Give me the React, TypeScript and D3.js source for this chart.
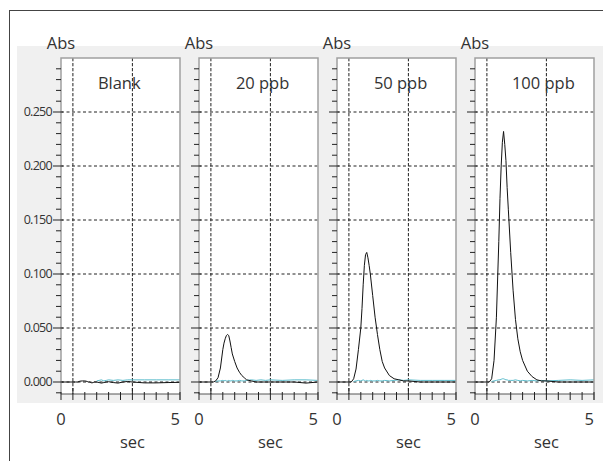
import React from 'react';
import * as d3 from 'd3';

// sample times (sec), shared by every trace
const TIME = [0, 0.25, 0.5, 0.6, 0.7, 0.8, 0.9, 1.0, 1.05, 1.1, 1.15, 1.2, 1.25, 1.3, 1.35, 1.4, 1.5, 1.6, 1.7, 1.8, 1.9, 2.0, 2.2, 2.4, 2.6, 2.8, 3.0, 3.5, 4.0, 4.5, 5.0];

const PANELS = ['Blank', '20 ppb', '50 ppb', '100 ppb'];

// absorbance signal (black)
const SIG_BLANK = [0, 0, 0, 0, 0, 0.0008, 0.001, 0.001, 0.0008, 0.0005, 0, 0, -0.0005, -0.0008, -0.0005, 0, 0, -0.0005, -0.001, -0.0005, 0, 0.0003, -0.0005, -0.001, 0, 0.0005, 0, -0.0008, -0.0008, -0.0005, -0.0003];
const SIG_20 = [0, 0, 0, 0, 0.001, 0.004, 0.013, 0.03, 0.036, 0.04, 0.043, 0.044, 0.043, 0.038, 0.032, 0.026, 0.019, 0.013, 0.009, 0.006, 0.004, 0.002, 0.001, 0, 0, 0, 0, 0, 0, -0.001, 0];
const SIG_50 = [0, 0, 0, 0, 0.003, 0.012, 0.03, 0.05, 0.068, 0.09, 0.108, 0.118, 0.12, 0.115, 0.108, 0.1, 0.08, 0.06, 0.044, 0.03, 0.019, 0.013, 0.006, 0.003, 0.002, 0.001, 0.001, 0, 0, 0, 0];
const SIG_100 = [0, 0, 0, 0, 0.003, 0.02, 0.06, 0.13, 0.17, 0.2, 0.222, 0.232, 0.22, 0.205, 0.18, 0.16, 0.12, 0.085, 0.058, 0.04, 0.028, 0.02, 0.01, 0.005, 0.002, 0.001, 0.001, 0, 0, 0, 0];

// background trace (cyan), null where not drawn
const N = null;
const BG_BLANK = [N, N, N, N, N, N, N, N, N, N, N, N, N, N, N, N, 0.001, 0.0015, 0.002, 0.001, 0.0015, 0.002, 0.0015, 0.002, 0.0015, 0.002, 0.002, 0.002, 0.002, 0.002, 0.002];
const BG_20 = [N, N, N, N, 0.0005, 0.001, 0.001, 0.0015, 0.001, 0.0015, 0.001, 0.001, 0.0015, 0.001, 0.001, 0.0015, 0.001, 0.001, 0.0015, 0.001, 0.001, 0.0015, 0.002, 0.0015, 0.002, 0.0015, 0.002, 0.0015, 0.002, 0.002, 0.0015];
const BG_50 = [N, N, N, N, 0.0005, 0.001, 0.0015, 0.001, 0.0015, 0.002, 0.0015, 0.001, 0.0015, 0.001, 0.001, 0.0015, 0.001, 0.001, 0.0015, 0.001, 0.001, 0.0015, 0.001, 0.0015, 0.002, 0.0015, 0.002, 0.0015, 0.0015, 0.0015, 0.0015];
const BG_100 = [N, N, N, N, 0.0005, 0.001, 0.0015, 0.002, 0.002, 0.0025, 0.003, 0.003, 0.0025, 0.002, 0.002, 0.0015, 0.0015, 0.0015, 0.002, 0.0015, 0.001, 0.0015, 0.001, 0.0015, 0.001, 0.0015, 0.001, 0.0015, 0.002, 0.0015, 0.002];

const SIGNALS = [SIG_BLANK, SIG_20, SIG_50, SIG_100];
const BACKGROUNDS = [BG_BLANK, BG_20, BG_50, BG_100];

const Y_LABELS = [0, 0.05, 0.1, 0.15, 0.2, 0.25];
const X_GRID = [0.5, 3.0];

const font = "'Open Sans', 'Noto Sans', sans-serif";
const textColor = '#333';

export default function App() {
  const W = 611, H = 469;
  const panelW = 119;
  const top = 58, bottom = 394;

  const panelX = d3.scalePoint<string>().domain(PANELS).range([61, 475]);
  const y = d3.scaleLinear().domain([-0.0111, 0.3]).range([bottom, top]);
  const yMinor = d3.range(-1, 30).map((i) => i / 100);
  const xTicks = d3.range(0, 11).map((i) => i / 2);

  return (
    <div style={{ margin: -8 }}>
      <svg width={W} height={H} style={{ display: 'block', fontFamily: font }}>
        <rect x={0} y={0} width={W} height={H} fill="#fff" />
        <rect x={9.5} y={10.5} width={W} height={H} fill="none" stroke="#444" strokeWidth={1} />
        <rect x={17} y={46} width={588} height={357} fill="#f0f0f0" />

        {PANELS.map((name, pi) => {
          const x0 = panelX(name) as number;
          const x = d3.scaleLinear().domain([0, 5]).range([x0, x0 + panelW]);
          const line = d3
            .line<number | null>()
            .defined((d) => d !== null)
            .x((_, i) => x(TIME[i]))
            .y((d) => y(d as number));
          return (
            <g key={name}>
              <rect x={x0} y={top} width={panelW} height={bottom - top} fill="#fff" />

              {/* gridlines */}
              {Y_LABELS.map((v) => (
                <line key={'hg' + v} x1={x0} x2={x0 + panelW} y1={y(v)} y2={y(v)} stroke="#222" strokeWidth={1} strokeDasharray="3,2.5" />
              ))}
              {X_GRID.map((v) => (
                <line key={'vg' + v} x1={x(v)} x2={x(v)} y1={top} y2={bottom} stroke="#222" strokeWidth={1} strokeDasharray="3.3,1.7" />
              ))}

              {/* traces */}
              <path d={line(BACKGROUNDS[pi]) || ''} fill="none" stroke="#5bbccc" strokeWidth={1} />
              <path d={line(SIGNALS[pi]) || ''} fill="none" stroke="#111" strokeWidth={1} />

              {/* frame */}
              <path
                d={`M${x0},${bottom}V${top}H${x0 + panelW}V${bottom + 6}`}
                fill="none"
                stroke="#a0a0a0"
                strokeWidth={1.5}
              />

              {/* y ticks */}
              {yMinor.map((v) => {
                const major = Y_LABELS.some((l) => Math.abs(l - v) < 1e-9);
                return (
                  <line key={'yt' + v} x1={major ? x0 - 8 : x0 - 5} x2={major ? x0 + 2 : x0} y1={y(v)} y2={y(v)} stroke="#222" strokeWidth={1} />
                );
              })}

              {/* x axis */}
              <line x1={x0} x2={x0 + panelW} y1={bottom} y2={bottom} stroke="#555" strokeWidth={1} />
              {xTicks.map((v) => {
                const major = X_GRID.includes(v);
                return (
                  <line key={'xt' + v} x1={x(v)} x2={x(v)} y1={major ? bottom - 6 : bottom - 2} y2={bottom + 6} stroke="#222" strokeWidth={1} />
                );
              })}

              {pi === 0 &&
                Y_LABELS.map((v) => (
                  <text key={'yl' + v} x={x0 - 9} y={y(v)} dy="0.35em" textAnchor="end" fontSize={12.5} fill={textColor} letterSpacing={-0.7}>
                    {d3.format('.3f')(v)}
                  </text>
                ))}

              <text x={x0} y={49} textAnchor="middle" fontSize={16.5} fill={textColor}>Abs</text>
              <text x={x(1.55)} y={89} textAnchor="start" fontSize={16.5} fill={textColor}>{name}</text>
              <text x={x(0)} y={425} textAnchor="middle" fontSize={16.5} fill={textColor}>0</text>
              <text x={x(5)} y={425} textAnchor="end" fontSize={16.5} fill={textColor}>5</text>
              <text x={x(3)} y={448} textAnchor="middle" fontSize={16.5} fill={textColor}>sec</text>
            </g>
          );
        })}
      </svg>
    </div>
  );
}
